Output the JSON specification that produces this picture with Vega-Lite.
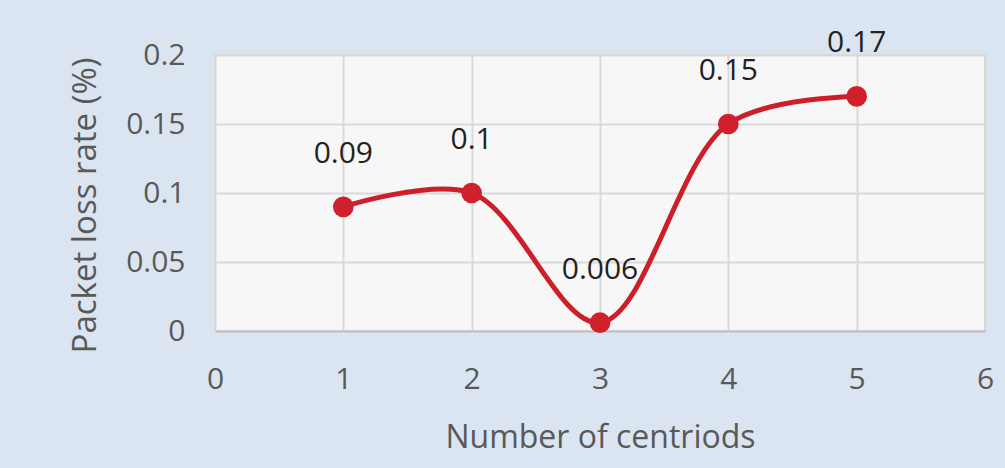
{
  "$schema": "https://vega.github.io/schema/vega-lite/v6.json",
  "autosize": "none",
  "width": 770,
  "height": 276,
  "padding": {"left": 215, "top": 55, "right": 20, "bottom": 137},
  "background": "#dbe5f1",
  "config": {
    "view": {"fill": "#f7f7f7", "stroke": "#d9d9d9", "strokeWidth": 2},
    "font": "Open Sans",
    "axis": {
      "grid": true, "gridColor": "#d9d9d9", "gridWidth": 2,
      "ticks": false, "domain": false,
      "labelFont": "Open Sans", "labelFontSize": 30, "labelColor": "#595959",
      "titleFont": "Open Sans", "titleFontSize": 32, "titleColor": "#595959", "titleFontWeight": "normal"
    }
  },
  "data": {
    "values": [
      {"centroids": 1, "loss": 0.09, "label": "0.09"},
      {"centroids": 2, "loss": 0.1, "label": "0.1"},
      {"centroids": 3, "loss": 0.006, "label": "0.006"},
      {"centroids": 4, "loss": 0.15, "label": "0.15"},
      {"centroids": 5, "loss": 0.17, "label": "0.17"}
    ]
  },
  "encoding": {
    "x": {
      "field": "centroids", "type": "quantitative",
      "scale": {"domain": [0, 6], "nice": false},
      "axis": {"values": [0, 1, 2, 3, 4, 5, 6], "labelFlush": false, "labelOverlap": false, "title": "Number of centriods", "labelPadding": 33, "titlePadding": 28, "domain": true, "domainColor": "#bfbfbf", "domainWidth": 2}
    },
    "y": {
      "field": "loss", "type": "quantitative",
      "scale": {"domain": [0, 0.2], "nice": false},
      "axis": {"values": [0, 0.05, 0.1, 0.15, 0.2], "format": "~g", "labelFlush": false, "title": "Packet loss rate (%)", "titleFontSize": 33, "labelPadding": 30, "titleX": -113, "titleY": 150, "titleAngle": -90, "titleBaseline": "bottom", "titleAlign": "center"}
    }
  },
  "layer": [
    {"mark": {"type": "line", "interpolate": "catmull-rom", "color": "#cc1f2a", "strokeWidth": 5}},
    {"mark": {"type": "point", "filled": true, "opacity": 1, "size": 430, "color": "#d0202b"}},
    {
      "mark": {"type": "text", "dy": -53, "fontSize": 30, "color": "#222222", "baseline": "middle", "font": "Open Sans"},
      "encoding": {"text": {"field": "label"}}
    }
  ]
}
